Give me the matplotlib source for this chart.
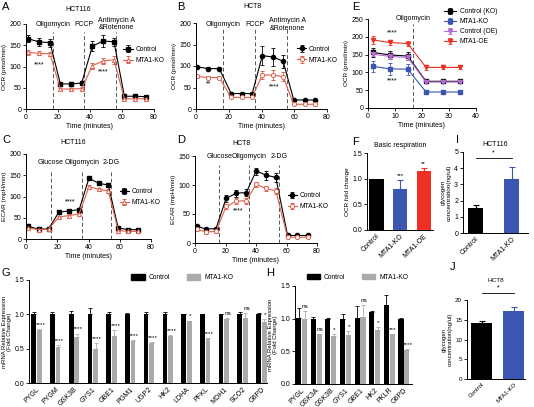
import matplotlib
matplotlib.use('Agg')
import matplotlib.pyplot as plt
from matplotlib.patches import Patch
import numpy as np

plt.rcParams['font.family'] = ['Liberation Sans', 'DejaVu Sans']
plt.rcParams['font.size'] = 5
plt.rcParams['axes.linewidth'] = 0.7

# ---------------- data ----------------
drugs_ocr = ['Oligomycin', 'FCCP', 'Antimycin A\n&Rotenone']
drugs_ecar = ['Glucose', 'Oligomycin', '2-DG']

# A: HCT116 OCR
a_time = [1.5, 8.2, 15, 21.5, 28.1, 34.8, 41.5, 48.2, 55, 61.5, 68.1, 74.8]
a_ctrl = [165, 158, 156, 59, 59, 61, 148, 160, 158, 30, 30, 29]
a_ctrl_err = [8, 9, 9, 4, 4, 4, 11, 15, 9, 6, 5, 5]
a_ko = [133, 131, 130, 47, 47, 48, 102, 113, 116, 24, 24, 24]
a_ko_err = [5, 5, 5, 3, 3, 3, 7, 8, 9, 2, 2, 2]
a_inject = [16.9, 36.3, 56.5]

# B: HCT8 OCR
b_time = [0.5, 7.5, 14.2, 21.5, 27.8, 34.3, 40.5, 47, 53.2, 59.7, 66.4, 72.9]
b_ctrl = [98, 94, 94, 36, 36, 36, 124, 121, 111, 21, 21, 21]
b_ctrl_err = [3, 3, 3, 3, 3, 3, 22, 22, 15, 2, 2, 2]
b_ko = [76, 73, 73, 27, 27, 27, 79, 79, 75, 11, 11, 11]
b_ko_err = [4, 3, 3, 2, 2, 2, 9, 11, 10, 2, 2, 3]
b_inject = [16.5, 36, 55.6]

# C: HCT116 ECAR
c_time = [1.5, 8, 14.5, 21, 27.5, 34, 40.3, 46.5, 52.7, 59, 65.5, 71.5]
c_ctrl = [30, 23, 24, 63, 66, 69, 143, 131, 127, 26, 22, 22]
c_ctrl_err = [3, 2, 2, 3, 3, 3, 5, 4, 4, 2, 2, 2]
c_ko = [26, 22, 23, 52, 55, 59, 123, 117, 113, 20, 18, 18]
c_ko_err = [2, 2, 2, 3, 3, 3, 4, 4, 4, 2, 2, 2]
c_inject = [16, 35.8, 54.4]

# D: HCT8 ECAR
d_time = [1, 7.3, 13.8, 20.4, 27.2, 33.6, 40.1, 46.7, 53, 60.7, 67.2, 73.9]
d_ctrl = [29, 24, 25, 77, 86, 87, 124, 117, 113, 13, 13, 13]
d_ctrl_err = [2, 2, 2, 6, 6, 6, 6, 8, 8, 2, 2, 2]
d_ko = [24, 19, 20, 63, 72, 73, 101, 94, 90, 10, 10, 10]
d_ko_err = [3, 3, 3, 5, 5, 5, 5, 5, 5, 2, 2, 2]
d_inject = [16, 35.5, 55.3]

# E: OCR with oligomycin
e_time = [1.9, 8.1, 14.7, 21.5, 27.7, 33.9]
e_names = ['Control (KO)', 'MTA1-KO', 'Control (OE)', 'MTA1-OE']
e_ctrl_ko = [156, 149, 146, 75, 75, 75]
e_ctrl_ko_err = [12, 10, 10, 3, 3, 3]
e_ko = [117, 110, 109, 45, 45, 45]
e_ko_err = [15, 17, 15, 2, 2, 2]
e_ctrl_oe = [151, 145, 142, 73, 73, 73]
e_ctrl_oe_err = [6, 6, 6, 2, 2, 2]
e_oe = [191, 184, 181, 114, 114, 114]
e_oe_err = [10, 8, 6, 6, 5, 5]
e_inject = [16.7]

# F: basic respiration
f_groups = ['Control', 'MTA1-KO', 'MTA1-OE']
f_vals = [1.0, 0.80, 1.15]
f_err = [0.0, 0.17, 0.06]
f_sig = ['', '***', '**']

# I: HCT116 glycogen
i_groups = ['Control', 'MTA1-KO']
i_vals = [1.54, 3.33]
i_err = [0.2, 0.76]

# J: HCT8 glycogen
j_groups = ['Control', 'MTA1-KO']
j_vals = [14.1, 17.3]
j_err = [0.7, 0.85]

# G: mRNA HCT116
g_genes = ['PYGL', 'PYGM', 'GSK3B', 'GYS1', 'GBE1', 'PGM1', 'UGP2', 'HK2',
           'LDHA', 'PFKL', 'MDH1', 'SCO2', 'G6PD']
g_ctrl = [1.0] * 13
g_ctrl_err = [0.03, 0.04, 0.05, 0.09, 0.04, 0.02, 0.03, 0.04, 0.01, 0.01, 0.01, 0.03, 0.02]
g_ko = [0.77, 0.53, 0.67, 0.50, 0.69, 0.61, 0.58, 0.68, 0.90, 0.65, 0.93, 0.95, 0.89]
g_ko_err = [0.02, 0.02, 0.05, 0.08, 0.08, 0.02, 0.02, 0.02, 0.01, 0.01, 0.01, 0.07, 0.04]
g_sig = ['****', '****', '****', '****', '****', '****', '****', '****', '*', '****', 'ns', 'ns', '*']

# H: mRNA HCT8
h_genes = ['PYGL', 'GSK3A', 'GSK3B', 'GYS1', 'GBE1', 'HK2', 'PKLR', 'G6PD']
h_ctrl = [1.01, 1.0, 1.0, 1.0, 1.01, 1.10, 1.21, 1.0]
h_ctrl_err = [0.16, 0.03, 0.01, 0.07, 0.18, 0.01, 0.15, 0.01]
h_ko = [0.99, 0.76, 0.73, 0.75, 1.03, 0.83, 0.76, 0.52]
h_ko_err = [0.13, 0.01, 0.03, 0.06, 0.18, 0.04, 0.01, 0.01]
h_sig = ['ns', 'ns', '*', '*', 'ns', '*', '***', '****']

# ---------------- style ----------------
RED = '#e0604e'
BLUE = '#3a56b0'
PURPLE = '#b36ad6'
BRED = '#ee3124'
GRAY = '#aaaaaa'
FS = 5
LFS = 4.8
W, H = 534, 407
fig = plt.figure(figsize=(W / 100, H / 100), dpi=100)


def add_ax(x0, y0, x1, y1):
    ax = fig.add_axes([x0 / W, 1 - y1 / H, (x1 - x0) / W, (y1 - y0) / H])
    ax.spines['top'].set_visible(False)
    ax.spines['right'].set_visible(False)
    ax.tick_params(direction='out', length=2, width=0.6, labelsize=FS, pad=1.5)
    return ax


def letter(x, y, s):
    fig.text(x / W, 1 - y / H, s, fontsize=8, va='top', ha='left')


def line_panel(ax, t, c, ce, k, ke, cm, km, inject, labels, lab_y, line_top,
               xlim, ylim, yticks, ylabel, leg_xy):
    kw = dict(ms=3, lw=0.8, capsize=1.5, elinewidth=0.6, capthick=0.6)
    ax.errorbar(t, c, yerr=ce, color='black', marker=cm, label='Control', **kw)
    ax.errorbar(t, k, yerr=ke, color=RED, marker=km, mfc='white', mew=0.7,
                label='MTA1-KO', **kw)
    ax.vlines(inject, 0, line_top, colors='#555555', linestyles=(0, (4, 2.5)), lw=0.7)
    for x, s in zip(inject, labels):
        ax.text(x, lab_y, s, ha='center', va='center', fontsize=FS, linespacing=1.1,
                clip_on=False)
    ax.set_xlim(*xlim)
    ax.set_ylim(*ylim)
    ax.set_yticks(yticks)
    ax.set_xticks(np.arange(0, xlim[1] + 1, 20))
    ax.set_xlabel('Time (minutes)', fontsize=FS, labelpad=1.5)
    ax.set_ylabel(ylabel, fontsize=4.6, labelpad=2)
    ax.legend(frameon=False, fontsize=LFS, loc='center left', bbox_to_anchor=leg_xy,
              borderpad=0, borderaxespad=0, handlelength=1.4, handletextpad=0.4,
              labelspacing=0.6)


# ---- A ----
axA = add_ax(26, 24, 154, 109)
line_panel(axA, a_time, a_ctrl, a_ctrl_err, a_ko, a_ko_err, 's', '^', a_inject,
           drugs_ocr, 200, 181, (0, 80), (0, 200), [0, 50, 100, 150, 200],
           'OCR (pmol/min)', (0.76, 0.635))
axA.text(8, 103, '****', ha='center', va='center', fontsize=FS)
axA.text(48.5, 87, '****', ha='center', va='center', fontsize=FS)
axA.text(0.41, 1.165, 'HCT116', transform=axA.transAxes, ha='center', va='center', fontsize=5)
letter(2, 2, 'A')

# ---- B ----
axB = add_ax(196, 23, 327, 109)
line_panel(axB, b_time, b_ctrl, b_ctrl_err, b_ko, b_ko_err, 'o', 'o', b_inject,
           drugs_ocr, 197, 188, (0, 80), (0, 200), [0, 50, 100, 150, 200],
           'OCR (pmol/min)', (0.77, 0.63))
axB.text(7.5, 58, '**', ha='center', va='center', fontsize=FS)
axB.text(48, 51, '****', ha='center', va='center', fontsize=FS)
axB.text(0.43, 1.19, 'HCT8', transform=axB.transAxes, ha='center', va='center', fontsize=5)
letter(177, 2, 'B')

# ---- C ----
axC = add_ax(26, 154, 151, 239)
line_panel(axC, c_time, c_ctrl, c_ctrl_err, c_ko, c_ko_err, 's', '^', c_inject,
           drugs_ecar, 179, 162, (0, 80), (0, 200), [0, 50, 100, 150, 200],
           'ECAR (mpH/min)', (0.75, 0.49))
axC.text(28, 87, '****', ha='center', va='center', fontsize=FS)
axC.text(0.38, 1.14, 'HCT116', transform=axC.transAxes, ha='center', va='center', fontsize=5)
letter(2, 135, 'C')

# ---- D ----
axD = add_ax(195, 156, 317, 243)
line_panel(axD, d_time, d_ctrl, d_ctrl_err, d_ko, d_ko_err, 'o', 'o', d_inject,
           drugs_ecar, 149, 134, (0, 80), (0, 150), [0, 50, 100, 150],
           'ECAR (mpH/min)', (0.76, 0.48))
axD.text(28, 55, '****', ha='center', va='center', fontsize=FS)
axD.text(0.385, 1.14, 'HCT8', transform=axD.transAxes, ha='center', va='center', fontsize=5)
letter(177, 135, 'D')

# ---- E ----
axE = add_ax(368, 19, 476, 108)
kw = dict(ms=3, lw=0.8, capsize=1.5, elinewidth=0.6, capthick=0.6)
axE.errorbar(e_time, e_ctrl_ko, yerr=e_ctrl_ko_err, color='black', marker='s', label=e_names[0], **kw)
axE.errorbar(e_time, e_ko, yerr=e_ko_err, color=BLUE, marker='s', label=e_names[1], **kw)
axE.errorbar(e_time, e_ctrl_oe, yerr=e_ctrl_oe_err, color=PURPLE, marker='v', label=e_names[2], **kw)
axE.errorbar(e_time, e_oe, yerr=e_oe_err, color=BRED, marker='v', label=e_names[3], **kw)
axE.vlines(e_inject, 0, 237, colors='#555555', linestyles=(0, (4, 2.5)), lw=0.7)
axE.text(e_inject[0], 250, 'Oligomycin', ha='center', va='center', fontsize=FS)
axE.set_xlim(0, 40)
axE.set_ylim(0, 250)
axE.set_xticks([0, 10, 20, 30, 40])
axE.set_yticks([0, 50, 100, 150, 200, 250])
axE.set_xlabel('Time (minutes)', fontsize=FS, labelpad=1.5)
axE.set_ylabel('OCR (pmol/min)', fontsize=4.6, labelpad=2)
axE.text(8.9, 210, '****', ha='center', va='center', fontsize=FS)
axE.text(8.9, 76, '****', ha='center', va='center', fontsize=FS)
axE.legend(frameon=False, fontsize=LFS, loc='upper left', bbox_to_anchor=(0.70, 1.12),
           borderpad=0, borderaxespad=0, handlelength=1.8, handletextpad=0.6,
           labelspacing=0.45)
letter(352, 2, 'E')


def bar_panel(ax, vals, err, colors, names, xlim, width, tfs=FS):
    x = np.arange(len(vals))
    ax.bar(x, vals, width=width, color=colors)
    for xi, v, e, c in zip(x, vals, err, colors):
        if e > 0:
            ax.errorbar([xi], [v], yerr=[[0], [e]], color=c, capsize=2, elinewidth=0.8,
                        capthick=0.8)
    ax.set_xlim(*xlim)
    ax.set_xticks(x)
    ax.set_xticklabels(names, rotation=45, ha='right', rotation_mode='anchor', fontsize=tfs)
    ax.tick_params(axis='x', length=0, pad=2)
    return x


# ---- F ----
axF = add_ax(367, 153, 433, 230)
xf = bar_panel(axF, f_vals, f_err, ['black', BLUE, BRED], f_groups, (-0.4, 2.4), 0.6)
axF.set_ylim(0, 1.5)
axF.set_yticks([0.0, 0.5, 1.0, 1.5])
axF.set_yticklabels(['0.0', '0.5', '1.0', '1.5'])
for xi, v, e, s in zip(xf, f_vals, f_err, f_sig):
    if s:
        axF.text(xi, v + e + 0.04, s, ha='center', va='bottom', fontsize=4.5)
axF.set_ylabel('OCR fold change', fontsize=4.6, labelpad=2)
axF.set_title('Basic respiration', fontsize=5, pad=4)
letter(352, 137, 'F')

# ---- I ----
axI = add_ax(463, 152, 528, 233)
xi_ = bar_panel(axI, i_vals, i_err, ['black', BLUE], i_groups, (-0.35, 1.45), 0.42)
axI.set_ylim(0, 5)
axI.set_yticks([0, 1, 2, 3, 4, 5])
axI.plot([xi_[0], xi_[1]], [4.6, 4.6], color='black', lw=0.6)
axI.text(0.5, 4.7, '*', ha='center', va='bottom', fontsize=FS)
axI.set_ylabel('glycogen\nconcentration(ng/ul)', fontsize=4.6, labelpad=2, linespacing=1.1)
axI.set_title('HCT116', fontsize=5, pad=4)
letter(456, 135, 'I')

# ---- J ----
axJ = add_ax(467, 300, 525, 379)
xj = bar_panel(axJ, j_vals, j_err, ['black', BLUE], j_groups, (-0.47, 1.35), 0.66, tfs=4.3)
axJ.set_ylim(0, 20)
axJ.set_yticks([0, 5, 10, 15, 20])
axJ.tick_params(axis='y', labelsize=4.5)
axJ.plot([xj[0], xj[1]], [21.8, 21.8], color='black', lw=0.6, clip_on=False)
axJ.text(0.5, 22.2, '*', ha='center', va='bottom', fontsize=FS)
axJ.set_ylabel('glycogen\nconcentration(ng/ul)', fontsize=4.3, labelpad=2, linespacing=1.1)
axJ.text(0.5, 1.25, 'HCT8', transform=axJ.transAxes, ha='center', va='center', fontsize=4.6)
letter(450, 262, 'J')


def gene_panel(ax, genes, c, ce, k, ke, sig, off, width, xlim, leg_xy):
    x = np.arange(len(genes))
    ax.bar(x, c, width=width, color='black', label='Control')
    ax.bar(x + off, k, width=width, color=GRAY, label='MTA1-KO')
    ax.errorbar(x, c, yerr=[np.zeros(len(c)), ce], fmt='none', ecolor='black',
                capsize=1.5, elinewidth=0.6, capthick=0.6)
    ax.errorbar(x + off, k, yerr=[np.zeros(len(k)), ke], fmt='none', ecolor=GRAY,
                capsize=1.5, elinewidth=0.6, capthick=0.6)
    for xi, v, e, s in zip(x, k, ke, sig):
        ax.text(xi + off + 0.06, v + e + 0.03, s, ha='center', va='bottom', fontsize=4.6)
    ax.set_xlim(*xlim)
    ax.set_ylim(0, 1.5)
    ax.set_yticks([0.0, 0.5, 1.0, 1.5])
    ax.set_yticklabels(['0.0', '0.5', '1.0', '1.5'])
    ax.set_xticks(x + off / 2)
    ax.set_xticklabels(genes, rotation=45, ha='right', rotation_mode='anchor', fontsize=FS)
    ax.tick_params(axis='x', length=0, pad=2)
    ax.set_ylabel('mRNA Relative Expression\n(Fold Change)', fontsize=4.3, labelpad=1.5,
                  linespacing=1.05)
    ax.legend(handles=[Patch(color='black', label='Control'), Patch(color=GRAY, label='MTA1-KO')],
              ncol=2, frameon=False, fontsize=4.8, loc='center left', bbox_to_anchor=leg_xy,
              borderpad=0, borderaxespad=0, handlelength=2.0, handleheight=0.9,
              handletextpad=0.6, columnspacing=2.5)


# ---- G ----
axG = add_ax(29, 280, 267, 383)
gene_panel(axG, g_genes, g_ctrl, g_ctrl_err, g_ko, g_ko_err, g_sig, 0.3, 0.25,
           (-0.25, 12.45), (0.43, 1.02))
letter(2, 268, 'G')

# ---- H ----
axH = add_ax(295, 286, 412, 384)
gene_panel(axH, h_genes, h_ctrl, h_ctrl_err, h_ko, h_ko_err, h_sig, 0.4, 0.35,
           (-0.25, 7.75), (0.10, 1.09))
letter(266, 268, 'H')

fig.savefig('out.png', dpi=100)
